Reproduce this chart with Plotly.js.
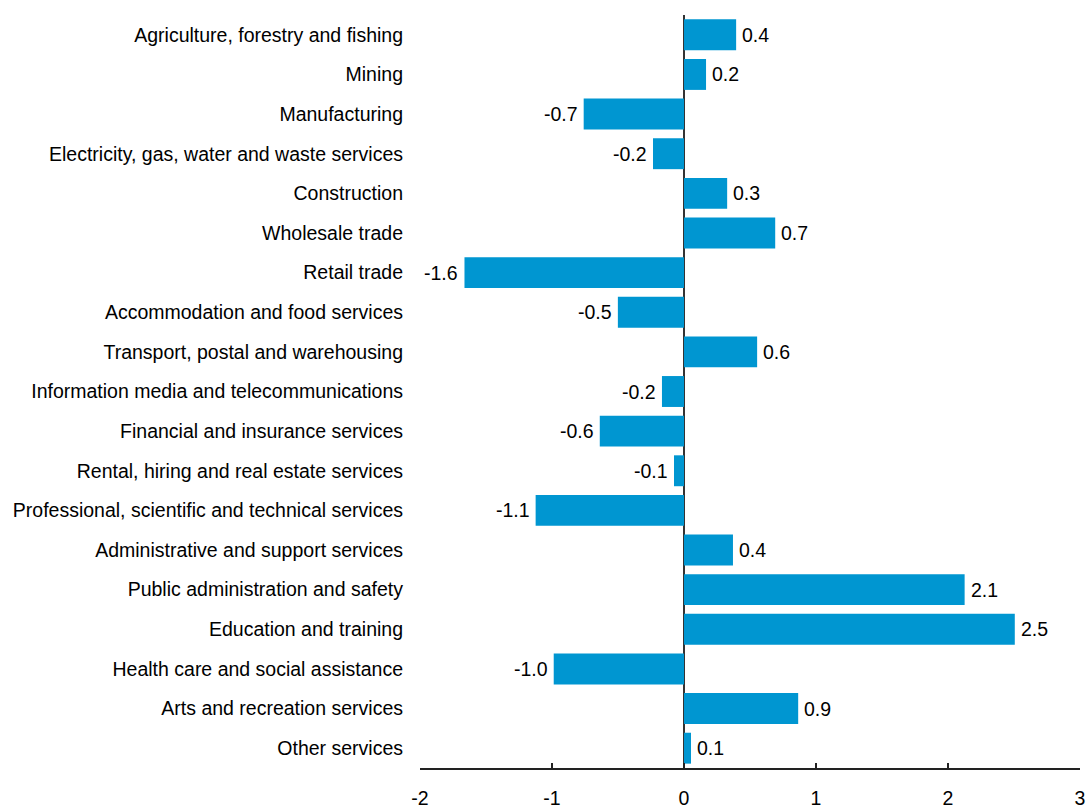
<!DOCTYPE html>
<html>
<head>
<meta charset="utf-8">
<script src="https://cdn.plot.ly/plotly-3.0.1.min.js"></script>
<style>html,body{margin:0;padding:0;background:#fff;}#chart{width:1087px;height:805px;}</style>
</head>
<body>
<div id="chart"></div>
<script>
const categories = [
  "Agriculture, forestry and fishing",
  "Mining",
  "Manufacturing",
  "Electricity, gas, water and waste services",
  "Construction",
  "Wholesale trade",
  "Retail trade",
  "Accommodation and food services",
  "Transport, postal and warehousing",
  "Information media and telecommunications",
  "Financial and insurance services",
  "Rental, hiring and real estate services",
  "Professional, scientific and technical services",
  "Administrative and support services",
  "Public administration and safety",
  "Education and training",
  "Health care and social assistance",
  "Arts and recreation services",
  "Other services"
];
const values = [0.395, 0.167, -0.76, -0.235, 0.327, 0.691, -1.663, -0.501, 0.554, -0.167, -0.638, -0.076, -1.124, 0.371, 2.126, 2.506, -0.987, 0.865, 0.053];
const labels = ["0.4", "0.2", "-0.7", "-0.2", "0.3", "0.7", "-1.6", "-0.5", "0.6", "-0.2", "-0.6", "-0.1", "-1.1", "0.4", "2.1", "2.5", "-1.0", "0.9", "0.1"];
const xTicks = [-2, -1, 0, 1, 2, 3];

const font = {family: "Liberation Sans, Arial, sans-serif", size: 19.5, color: "#000"};

const annotations = categories.map((c, i) => ({
  x: values[i],
  y: c,
  xref: "x",
  yref: "y",
  text: labels[i],
  showarrow: false,
  xanchor: values[i] >= 0 ? "left" : "right",
  yanchor: "middle",
  xshift: values[i] >= 0 ? 4 : -4,
  font: font
}));

Plotly.newPlot("chart", [{
  type: "bar",
  orientation: "h",
  y: categories,
  x: values,
  marker: {color: "#0096d1"},
  hoverinfo: "skip"
}], {
  width: 1087,
  height: 805,
  margin: {l: 420, r: 7, t: 15, b: 37},
  paper_bgcolor: "#fff",
  plot_bgcolor: "#fff",
  bargap: 0.22,
  showlegend: false,
  font: font,
  annotations: annotations,
  xaxis: {
    range: [-2, 3],
    tickvals: xTicks,
    ticktext: xTicks.map(String),
    showgrid: false,
    zeroline: true,
    zerolinecolor: "#333",
    zerolinewidth: 2,
    showline: true,
    linecolor: "#222",
    linewidth: 1.5,
    ticks: "inside",
    ticklen: 5,
    tickwidth: 1.5,
    tickcolor: "#222",
    ticklabelstandoff: 12,
    tickfont: font,
    fixedrange: true
  },
  yaxis: {
    type: "category",
    autorange: "reversed",
    showgrid: false,
    showline: false,
    zeroline: false,
    ticks: "",
    ticklabelstandoff: 16,
    tickfont: font,
    fixedrange: true
  }
}, {displayModeBar: false, staticPlot: true});
</script>
</body>
</html>
